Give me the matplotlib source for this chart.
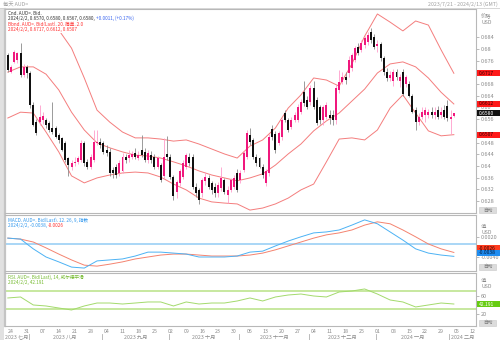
import matplotlib
matplotlib.use("Agg")
import matplotlib.pyplot as plt
import matplotlib.transforms as mtransforms
from matplotlib.patches import Rectangle
from matplotlib.lines import Line2D
import numpy as np

plt.rcParams['font.family'] = ['Noto Sans CJK SC', 'DejaVu Sans']

W, H = 500, 340

# Daily candles, AUD= bid, 2023-07-21 .. 2024-02-02
opens = [0.6780, 0.6723, 0.6757, 0.6762, 0.6785, 0.6711, 0.6740, 0.6717, 0.6609, 0.6552,
         0.6552, 0.6557, 0.6557, 0.6546, 0.6529, 0.6529, 0.6506, 0.6495, 0.6477, 0.6426,
         0.6398, 0.6409, 0.6415, 0.6421, 0.6477, 0.6415, 0.6398, 0.6421, 0.6477, 0.6483,
         0.6477, 0.6455, 0.6449, 0.6386, 0.6398, 0.6375, 0.6381, 0.6432, 0.6426, 0.6432,
         0.6443, 0.6426, 0.6455, 0.6449, 0.6421, 0.6438, 0.6432, 0.6398, 0.6403, 0.6364,
         0.6440, 0.6432, 0.6363, 0.6310, 0.6341, 0.6363, 0.6397, 0.6432, 0.6432, 0.6329,
         0.6318, 0.6306, 0.6347, 0.6358, 0.6341, 0.6329, 0.6306, 0.6324, 0.6352, 0.6301,
         0.6318, 0.6329, 0.6375, 0.6352, 0.6386, 0.6432, 0.6506, 0.6489, 0.6432, 0.6426,
         0.6398, 0.6341, 0.6375, 0.6527, 0.6510, 0.6477, 0.6500, 0.6580, 0.6557, 0.6534,
         0.6557, 0.6557, 0.6586, 0.6654, 0.6626, 0.6620, 0.6666, 0.6626, 0.6603, 0.6557,
         0.6569, 0.6574, 0.6574, 0.6557, 0.6660, 0.6688, 0.6705, 0.6717, 0.6734, 0.6762,
         0.6808, 0.6797, 0.6814, 0.6825, 0.6860, 0.6840, 0.6812, 0.6818, 0.6768, 0.6722,
         0.6700, 0.6690, 0.6720, 0.6690, 0.6720, 0.6680, 0.6680, 0.6640, 0.6591, 0.6552,
         0.6569, 0.6574, 0.6574, 0.6586, 0.6574, 0.6591, 0.6574, 0.6591, 0.6605, 0.6560,
         0.6570]
highs = [0.6785, 0.6745, 0.6797, 0.6791, 0.6819, 0.6750, 0.6745, 0.6725, 0.6620, 0.6560,
         0.6609, 0.6585, 0.6565, 0.6555, 0.6620, 0.6535, 0.6512, 0.6500, 0.6485, 0.6430,
         0.6420, 0.6430, 0.6435, 0.6490, 0.6485, 0.6425, 0.6440, 0.6523, 0.6523, 0.6495,
         0.6485, 0.6470, 0.6460, 0.6395, 0.6405, 0.6420, 0.6445, 0.6440, 0.6455, 0.6450,
         0.6460, 0.6450, 0.6506, 0.6460, 0.6455, 0.6450, 0.6440, 0.6435, 0.6410, 0.6495,
         0.6501, 0.6440, 0.6370, 0.6352, 0.6390, 0.6420, 0.6445, 0.6445, 0.6440, 0.6340,
         0.6325, 0.6360, 0.6380, 0.6370, 0.6350, 0.6340, 0.6345, 0.6398, 0.6360, 0.6330,
         0.6360, 0.6370, 0.6390, 0.6385, 0.6450, 0.6522, 0.6530, 0.6495, 0.6440, 0.6432,
         0.6405, 0.6390, 0.6510, 0.6540, 0.6520, 0.6520, 0.6565, 0.6590, 0.6565, 0.6568,
         0.6585, 0.6612, 0.6630, 0.6690, 0.6640, 0.6676, 0.6690, 0.6635, 0.6610, 0.6610,
         0.6618, 0.6590, 0.6590, 0.6680, 0.6728, 0.6720, 0.6720, 0.6775, 0.6785, 0.6810,
         0.6820, 0.6830, 0.6845, 0.6860, 0.6872, 0.6850, 0.6830, 0.6825, 0.6775, 0.6735,
         0.6725, 0.6730, 0.6730, 0.6715, 0.6730, 0.6712, 0.6690, 0.6645, 0.6600, 0.6580,
         0.6600, 0.6600, 0.6595, 0.6600, 0.6600, 0.6605, 0.6600, 0.6610, 0.6625, 0.6590,
         0.6580]
lows = [0.6723, 0.6717, 0.6751, 0.6751, 0.6705, 0.6705, 0.6700, 0.6598, 0.6535, 0.6505,
        0.6540, 0.6545, 0.6530, 0.6515, 0.6510, 0.6495, 0.6480, 0.6450, 0.6415, 0.6364,
        0.6385, 0.6400, 0.6405, 0.6415, 0.6400, 0.6390, 0.6390, 0.6415, 0.6470, 0.6460,
        0.6440, 0.6435, 0.6365, 0.6360, 0.6360, 0.6365, 0.6375, 0.6410, 0.6415, 0.6425,
        0.6425, 0.6420, 0.6430, 0.6415, 0.6410, 0.6410, 0.6390, 0.6390, 0.6345, 0.6355,
        0.6420, 0.6355, 0.6285, 0.6290, 0.6330, 0.6355, 0.6390, 0.6400, 0.6320, 0.6295,
        0.6270, 0.6295, 0.6335, 0.6320, 0.6305, 0.6295, 0.6295, 0.6315, 0.6305, 0.6272,
        0.6310, 0.6320, 0.6310, 0.6340, 0.6380, 0.6425, 0.6470, 0.6425, 0.6400, 0.6392,
        0.6360, 0.6330, 0.6365, 0.6490, 0.6445, 0.6470, 0.6490, 0.6550, 0.6515, 0.6525,
        0.6550, 0.6550, 0.6578, 0.6605, 0.6595, 0.6610, 0.6595, 0.6540, 0.6545, 0.6540,
        0.6560, 0.6545, 0.6540, 0.6545, 0.6650, 0.6680, 0.6680, 0.6705, 0.6725, 0.6755,
        0.6780, 0.6790, 0.6805, 0.6815, 0.6822, 0.6800, 0.6790, 0.6760, 0.6712, 0.6690,
        0.6690, 0.6675, 0.6695, 0.6670, 0.6640, 0.6670, 0.6635, 0.6580, 0.6523, 0.6540,
        0.6560, 0.6552, 0.6565, 0.6565, 0.6560, 0.6560, 0.6565, 0.6560, 0.6555, 0.6510,
        0.6567]
closes = [0.6728, 0.6740, 0.6791, 0.6785, 0.6711, 0.6740, 0.6717, 0.6609, 0.6540, 0.6512,
          0.6569, 0.6572, 0.6540, 0.6523, 0.6517, 0.6500, 0.6489, 0.6455, 0.6421, 0.6403,
          0.6409, 0.6415, 0.6426, 0.6477, 0.6409, 0.6398, 0.6432, 0.6483, 0.6483, 0.6472,
          0.6449, 0.6443, 0.6375, 0.6375, 0.6369, 0.6409, 0.6432, 0.6421, 0.6438, 0.6440,
          0.6432, 0.6438, 0.6438, 0.6421, 0.6443, 0.6421, 0.6398, 0.6426, 0.6352, 0.6432,
          0.6432, 0.6363, 0.6296, 0.6345, 0.6381, 0.6409, 0.6437, 0.6409, 0.6329, 0.6306,
          0.6284, 0.6352, 0.6363, 0.6329, 0.6318, 0.6306, 0.6335, 0.6358, 0.6312, 0.6318,
          0.6352, 0.6358, 0.6318, 0.6375, 0.6443, 0.6512, 0.6483, 0.6432, 0.6409, 0.6398,
          0.6369, 0.6381, 0.6499, 0.6499, 0.6453, 0.6512, 0.6557, 0.6557, 0.6523, 0.6557,
          0.6574, 0.6603, 0.6620, 0.6614, 0.6603, 0.6666, 0.6603, 0.6546, 0.6557, 0.6603,
          0.6609, 0.6563, 0.6557, 0.6666, 0.6688, 0.6703, 0.6694, 0.6762, 0.6780, 0.6802,
          0.6785, 0.6819, 0.6837, 0.6848, 0.6830, 0.6806, 0.6818, 0.6768, 0.6720, 0.6700,
          0.6712, 0.6722, 0.6705, 0.6705, 0.6645, 0.6705, 0.6640, 0.6585, 0.6552, 0.6569,
          0.6586, 0.6591, 0.6586, 0.6574, 0.6586, 0.6569, 0.6586, 0.6569, 0.6565, 0.6569,
          0.6580]

# Indicator readings, every 4th session (session 0 = 2023-07-21)
ind_idx = list(range(0, 141, 4))
bb_upper = [0.6879, 0.6892, 0.6896, 0.6913, 0.6865, 0.6803, 0.6701, 0.6591, 0.6550, 0.6516,
            0.6496, 0.6496, 0.6492, 0.6485, 0.6489, 0.6475, 0.6458, 0.6441, 0.6427, 0.6468,
            0.6489, 0.6530, 0.6598, 0.6643, 0.6701, 0.6694, 0.6673, 0.6749, 0.6844, 0.6920,
            0.6892, 0.6862, 0.6896, 0.6882, 0.6797, 0.6717]
bb_mid = [0.6721, 0.6739, 0.6739, 0.6714, 0.6660, 0.6584, 0.6523, 0.6479, 0.6462, 0.6448,
          0.6437, 0.6434, 0.6427, 0.6414, 0.6400, 0.6383, 0.6369, 0.6359, 0.6349, 0.6359,
          0.6373, 0.6403, 0.6441, 0.6475, 0.6520, 0.6554, 0.6581, 0.6622, 0.6663, 0.6718,
          0.6749, 0.6756, 0.6739, 0.6701, 0.6652, 0.6612]
bb_lower = [0.6564, 0.6584, 0.6581, 0.6516, 0.6448, 0.6366, 0.6342, 0.6359, 0.6369, 0.6376,
            0.6379, 0.6376, 0.6362, 0.6338, 0.6318, 0.6290, 0.6277, 0.6273, 0.6270, 0.6249,
            0.6256, 0.6270, 0.6290, 0.6318, 0.6338, 0.6414, 0.6492, 0.6496, 0.6489, 0.6523,
            0.6598, 0.6643, 0.6581, 0.6520, 0.6503, 0.6507]
macd_line = [0.0018, 0.0015, -0.0015, -0.0040, -0.0055, -0.0071, -0.0074, -0.0052, -0.0049, -0.0046,
             -0.0037, -0.0025, -0.0025, -0.0028, -0.0031, -0.0040, -0.0040, -0.0040, -0.0037, -0.0025,
             -0.0022, -0.0006, 0.0009, 0.0022, 0.0034, 0.0037, 0.0043, 0.0058, 0.0074, 0.0062,
             0.0037, 0.0012, -0.0015, -0.0028, -0.0034, -0.0038]
macd_signal = [0.0018, 0.0015, 0.0006, -0.0012, -0.0031, -0.0049, -0.0065, -0.0068, -0.0062, -0.0055,
               -0.0046, -0.0040, -0.0034, -0.0031, -0.0031, -0.0034, -0.0037, -0.0037, -0.0037, -0.0034,
               -0.0028, -0.0018, -0.0006, 0.0006, 0.0018, 0.0028, 0.0034, 0.0043, 0.0058, 0.0068,
               0.0062, 0.0043, 0.0022, 0.0000, -0.0015, -0.0026]
rsi_vals = [55.6, 57.8, 40.0, 37.8, 33.3, 28.9, 37.8, 44.4, 44.4, 42.2,
            44.4, 46.7, 46.7, 37.8, 46.7, 42.2, 44.4, 44.4, 48.9, 55.6,
            48.9, 57.8, 62.2, 64.4, 60.0, 57.8, 68.9, 71.1, 75.6, 64.4,
            51.1, 46.7, 35.6, 40.0, 44.4, 42.191]

# Calendar axis: Monday labels and month blocks
week_days = ["24", "31", "07", "14", "21", "28", "04", "11", "18", "25",
             "02", "09", "16", "23", "30", "06", "13", "20", "27", "04",
             "11", "18", "25", "01", "08", "15", "22", "29", "05", "12"]
week_idx = list(range(1, 147, 5))
month_names = ["2023 七月", "2023 八月", "2023 九月", "2023 十月",
               "2023 十一月", "2023 十二月", "2024 一月", "2024 二月"]
month_starts = [7, 30, 51, 73, 95, 116, 139]

XMIN, XMAX = -0.88, 146.95
GREY_TXT = '#8a8a8a'
LEG_SIZE = 3.35

fig = plt.figure(figsize=(W / 100, H / 100), dpi=100)
fig.patch.set_facecolor('white')


def fx(x):
    return x / W


def fy(y):
    return 1 - y / H


def panel(top, bottom):
    a = fig.add_axes([fx(5), fy(bottom), 471 / W, (bottom - top) / H])
    a.set_xlim(XMIN, XMAX)
    for s in a.spines.values():
        s.set_color('#b8b8b8')
        s.set_linewidth(0.8)
    a.spines['left'].set_color('#c4c4c4')
    a.spines['left'].set_linewidth(1.6)
    a.yaxis.tick_right()
    a.tick_params(axis='y', length=2.2, width=0.5, color='#a0a0a0',
                  labelsize=4, labelcolor=GREY_TXT, pad=1.5)
    a.tick_params(axis='x', length=0, labelbottom=False)
    return a


ax = panel(9, 213)
axm = panel(215, 271)
axr = panel(273, 326)

# left margin strip and header
fig.add_artist(Rectangle((0, 0), fx(4), fy(8), transform=fig.transFigure,
                         facecolor='#e1e1e1', edgecolor='none', zorder=0))
fig.add_artist(Line2D([0, 1], [fy(8), fy(8)], transform=fig.transFigure,
                      color='#d0d0d0', lw=0.6))
fig.text(fx(3), fy(4), "每天 AUD=", fontsize=3.8, color='#a0a0a0', va='center', ha='left')
fig.text(fx(498), fy(4), "2023/7/21 - 2024/2/13 (GMT)", fontsize=3.8, color='#a0a0a0',
         va='center', ha='right')

# --- candles + Bollinger bands
idx = np.arange(len(closes))
o = np.array(opens)
c = np.array(closes)
hi = np.array(highs)
lo = np.array(lows)
up = c >= o
body_lo = np.minimum(o, c)
body_h = np.maximum(np.abs(c - o), 0.00025)
ax.vlines(idx[up], lo[up], hi[up], color='#ff9ccb', lw=0.6, zorder=2)
ax.vlines(idx[~up], lo[~up], hi[~up], color='#8a8a8a', lw=0.6, zorder=2)
ax.bar(idx[up], body_h[up], bottom=body_lo[up], width=0.62, color='#f0187d', lw=0, zorder=3)
ax.bar(idx[~up], body_h[~up], bottom=body_lo[~up], width=0.62, color='#111111', lw=0, zorder=3)
for band in (bb_upper, bb_mid, bb_lower):
    ax.plot(ind_idx, band, color='#f47d7d', lw=0.7, zorder=1)
ax.set_ylim(0.6239, 0.6937)
# price ticks; 0.672 and 0.652 sit under the band value tags
pticks = [0.628, 0.632, 0.636, 0.640, 0.644, 0.648, 0.656, 0.660,
          0.664, 0.668, 0.676, 0.680, 0.684]
ax.set_yticks(pticks)
ax.set_yticklabels([f"{v:.3f}".rstrip('0') for v in pticks])

# --- MACD
axm.axhline(0, color='#a9d6f6', lw=1.4, zorder=1)
axm.plot(ind_idx, macd_signal, color='#f4836f', lw=0.7, zorder=2)
axm.plot(ind_idx, macd_line, color='#4cb2f4', lw=0.7, zorder=3)
axm.set_ylim(-0.0083, 0.0089)
axm.set_yticks([0.002, -0.004])
axm.set_yticklabels(["0.0020", "-0.0040"])

# --- RSI
axr.axhline(70, color='#bde48f', lw=1.2, zorder=1)
axr.axhline(30, color='#bde48f', lw=1.2, zorder=1)
axr.plot(ind_idx, rsi_vals, color='#a3da6c', lw=0.7, zorder=2)
axr.set_ylim(-6.7, 111.1)
axr.set_yticks([20, 60])
axr.set_yticklabels(["20", "60"])

# --- calendar labels under the lowest panel
tr = mtransforms.blended_transform_factory(axr.transData, fig.transFigure)
for i, d in zip(week_idx, week_days):
    axr.text(i, fy(331.5), d, transform=tr, fontsize=3.8, color=GREY_TXT,
             ha='center', va='center', clip_on=False)
edges = [XMIN] + [m - 0.5 for m in month_starts] + [XMAX]
for k, name in enumerate(month_names):
    cx = (edges[k] + edges[k + 1]) / 2
    axr.text(cx, fy(337), name, transform=tr, fontsize=3.8, color=GREY_TXT,
             ha='center', va='center', clip_on=False)
for m in month_starts:
    axr.add_line(Line2D([m - 0.5, m - 0.5], [fy(333.5), fy(339.5)], transform=tr,
                        color='#b0b0b0', lw=0.6, clip_on=False))

# --- right-hand captions
fig.text(fx(481), fy(16.5), "价格", fontsize=3.8, color=GREY_TXT, va='center', ha='left')
fig.text(fx(481), fy(22.5), "USD", fontsize=3.8, color=GREY_TXT, va='center', ha='left')
for ytop in (226, 280):
    fig.text(fx(481), fy(ytop), "值", fontsize=3.8, color=GREY_TXT, va='center', ha='left')
    fig.text(fx(481), fy(ytop + 6), "USD", fontsize=3.8, color=GREY_TXT, va='center', ha='left')
for ybox in (210, 266.5, 322.5):
    fig.add_artist(Rectangle((fx(479), fy(ybox + 3)), 17 / W, 6 / H, transform=fig.transFigure,
                             facecolor='#dcdcdc', edgecolor='#c8c8c8', lw=0.4, zorder=4))
    fig.text(fx(487.5), fy(ybox), "自动", fontsize=3.4, color='#7a7a7a',
             va='center', ha='center', zorder=5)


def value_tag(a, val, text, face, fg, shift=0.0):
    yd = a.transData.transform((0, val))[1] + shift
    yf = yd / fig.bbox.height
    h = 6.2 / H
    fig.add_artist(Rectangle((fx(477), yf - h / 2), 23 / W, h, transform=fig.transFigure,
                             facecolor=face, edgecolor='none', zorder=6))
    fig.text(fx(478.5), yf, text, fontsize=3.6, color=fg, va='center', ha='left', zorder=7)


value_tag(ax, bb_upper[-1], f"{bb_upper[-1]:.4f}", '#ff1a1a', '#3a0000')
value_tag(ax, bb_mid[-1], f"{bb_mid[-1]:.4f}", '#ff1a1a', '#3a0000')
value_tag(ax, closes[-1], f"{closes[-1]:.4f}", '#111111', 'white')
value_tag(ax, bb_lower[-1], f"{bb_lower[-1]:.4f}", '#ff1a1a', '#3a0000')
value_tag(axm, macd_signal[-1], f"{macd_signal[-1]:.4f}", '#ff3c1e', '#3a0000', shift=4.0)
value_tag(axm, macd_line[-1], f"{macd_line[-1]:.4f}", '#1e8cf0', '#001a40', shift=3.5)
value_tag(axr, rsi_vals[-1], f"{rsi_vals[-1]:.3f}", '#66cc11', 'white')

# --- in-panel legends
renderer = fig.canvas.get_renderer()


def runs(x, y, parts, size=LEG_SIZE):
    for s, col in parts:
        t = fig.text(fx(x), fy(y), s, fontsize=size, color=col, va='center', ha='left',
                     zorder=8, bbox=dict(facecolor='white', edgecolor='none', pad=0.4))
        x += t.get_window_extent(renderer).width


DARK, BLUE, RED = '#333333', '#3a66f0', '#ff3030'
chg = closes[-1] - closes[-2]
pct = chg / closes[-2] * 100
runs(8, 13, [("Cnd, AUD=, Bid,", DARK)])
runs(8, 18.5, [(f"2024/2/2, {opens[-1]:.4f}, {highs[-1]:.4f}, {lows[-1]:.4f}, {closes[-1]:.4f}, ", DARK),
               (f"{chg:+.4f}, ({pct:+.2f}%)", BLUE)])
runs(8, 24, [("Bbnd, AUD=, Bid(Last), 20, 简单, 2.0", RED)])
runs(8, 29.5, [(f"2024/2/2, {bb_upper[-1]:.4f}, {bb_mid[-1]:.4f}, {bb_lower[-1]:.4f}", RED)])

MBLUE = '#3399ee'
runs(8, 220, [("MACD, AUD=, Bid(Last), 12, 26, 9, 指数", MBLUE)])
runs(8, 225.5, [(f"2024/2/2, {macd_line[-1]:.4f}, ", MBLUE), (f"{macd_signal[-1]:.4f}", RED)])

GREEN = '#77bb33'
runs(8, 277, [("RSI, AUD=, Bid(Last), 14, 威尔德平滑", GREEN)])
runs(8, 282.5, [(f"2024/2/2, {rsi_vals[-1]:.3f}", GREEN)])

fig.savefig('out.png', dpi=100)
